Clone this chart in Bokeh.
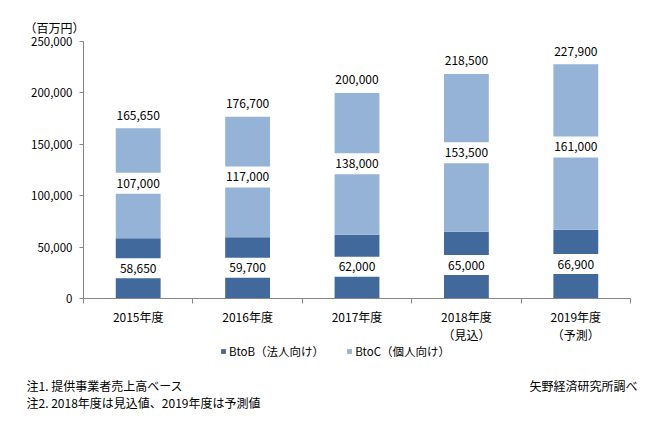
from bokeh.plotting import figure
from bokeh.models import (Range1d, LinearAxis, FixedTicker,
                          NumeralTickFormatter, ColumnDataSource, Label)
from bokeh.core.properties import value
from bokeh.embed import file_html
from bokeh.resources import INLINE

# ---- data ----
categories = ["2015年度", "2016年度", "2017年度", "2018年度\n（見込）", "2019年度\n（予測）"]
btob = [58650, 59700, 62000, 65000, 66900]
btoc = [107000, 117000, 138000, 153500, 161000]
series_names = ["BtoB（法人向け）", "BtoC（個人向け）"]
y_ticks = [0, 50000, 100000, 150000, 200000, 250000]
unit_label = "（百万円）"
note1 = "注1. 提供事業者売上高ベース"
note2 = "注2. 2018年度は見込値、2019年度は予測値"
source_note = "矢野経済研究所調べ"

n = len(categories)
xpos = [i + 0.5 for i in range(n)]          # category centres
totals = [a + b for a, b in zip(btob, btoc)]
fmt = lambda v: f"{v:,}"

# ---- layout (pixels inside the canvas) ----
W_FIG, H_FIG = 659, 427
PLOT_L, PLOT_R = 83, 630      # x pixel of axis start / end
PLOT_T, PLOT_B = 41, 298      # y pixel of top tick / baseline (from top)
px_x = (PLOT_R - PLOT_L) / n
px_y = (PLOT_B - PLOT_T) / (y_ticks[-1] - y_ticks[0])
x_start = -PLOT_L / px_x
x_end = n + (W_FIG - PLOT_R) / px_x
y_start = y_ticks[0] - (H_FIG - PLOT_B) / px_y
y_end = y_ticks[-1] + PLOT_T / px_y

FONT = "Noto Sans CJK JP"
DARK = "#41699B"
LIGHT = "#95B3D7"
AXIS = "#868686"

src = ColumnDataSource(dict(
    x=xpos, btob=btob, btoc=btoc, total=totals,
    b_mid=[b / 2 for b in btob],
    c_mid=[b + c / 2 for b, c in zip(btob, btoc)],
    b_lab=[fmt(v) for v in btob],
    c_lab=[fmt(v) for v in btoc],
    t_lab=[fmt(v) for v in totals],
))

p = figure(width=W_FIG, height=H_FIG, output_backend="svg", toolbar_location=None,
           x_range=Range1d(x_start, x_end), y_range=Range1d(y_start, y_end),
           x_axis_location=None, title=None,
           min_border=0)
p.outline_line_color = None
p.xgrid.visible = False
p.ygrid.visible = False
p.background_fill_color = "white"
p.border_fill_color = "white"

# x axis line with ticks between categories
bax = LinearAxis(ticker=FixedTicker(ticks=list(range(n + 1))), fixed_location=0, bounds=(0, n))
bax.axis_line_color = AXIS
bax.major_tick_line_color = AXIS
bax.major_tick_out = 5
bax.major_tick_in = 0
bax.minor_tick_line_color = None
bax.major_label_text_font_size = "0px"
bax.major_label_text_color = None
p.add_layout(bax, "below")

# category labels
cax = LinearAxis(ticker=FixedTicker(ticks=xpos), fixed_location=0, bounds=(0, n),
                 major_label_overrides={x: c for x, c in zip(xpos, categories)})
cax.axis_line_color = None
cax.major_tick_line_color = None
cax.major_tick_out = 0
cax.major_tick_in = 0
cax.minor_tick_line_color = None
cax.major_label_standoff = 9
cax.major_label_text_font = FONT
cax.major_label_text_font_size = "12px"
cax.major_label_text_color = "black"
cax.major_label_text_line_height = 1.1
p.add_layout(cax, "below")

yax = p.yaxis[0]
yax.fixed_location = 0
yax.bounds = (y_ticks[0], y_ticks[-1])
yax.ticker = FixedTicker(ticks=y_ticks)
yax.formatter = NumeralTickFormatter(format="0,0")
yax.axis_line_color = AXIS
yax.major_tick_line_color = AXIS
yax.major_tick_out = 4
yax.major_tick_in = 0
yax.minor_tick_line_color = None
yax.major_label_standoff = 7
yax.major_label_text_font = FONT
yax.major_label_text_font_size = "11.5px"
yax.major_label_text_color = "black"

BAR_W = 0.41
rs = p.vbar_stack(["btob", "btoc"], x="x", width=BAR_W, source=src,
                  color=[DARK, LIGHT], line_color=None, legend_label=series_names)

# white label boxes (as in the original data labels)
p.rect(x="x", y="b_mid", width=0.5, height=20, height_units="screen", source=src,
       fill_color="white", line_color=None)
p.rect(x="x", y="c_mid", width=0.5, height=21, height_units="screen", source=src,
       fill_color="white", line_color=None)

for ycol, tcol, yoff in [("b_mid", "b_lab", 0), ("c_mid", "c_lab", 0), ("total", "t_lab", -13)]:
    p.text(x="x", y=ycol, text=tcol, source=src, y_offset=yoff,
           text_font=value(FONT), text_font_size="12px", text_color="black",
           text_align="center", text_baseline="middle")

lg = p.legend[0]
lg.orientation = "horizontal"
lg.location = (220, H_FIG - 352 - 7)
lg.background_fill_alpha = 0
lg.border_line_color = None
lg.padding = 0
lg.margin = 0
lg.spacing = 22
lg.glyph_width = 6
lg.glyph_height = 6
lg.label_standoff = 3
lg.label_height = 14
lg.label_text_font = FONT
lg.label_text_font_size = "11.5px"
lg.label_text_color = "black"

def add_label(text, x, y, align="left"):
    p.add_layout(Label(x=x, y=y, x_units="screen", y_units="screen", text=text,
                       text_font=FONT, text_font_size="12px", text_color="black",
                       text_align=align, text_baseline="middle"))

add_label(unit_label, 24, H_FIG - 27)
add_label(note1, 26, H_FIG - 385)
add_label(note2, 26, H_FIG - 402)
add_label(source_note, 637, H_FIG - 385, align="right")

open("out.html", "w").write(file_html(p, INLINE))
